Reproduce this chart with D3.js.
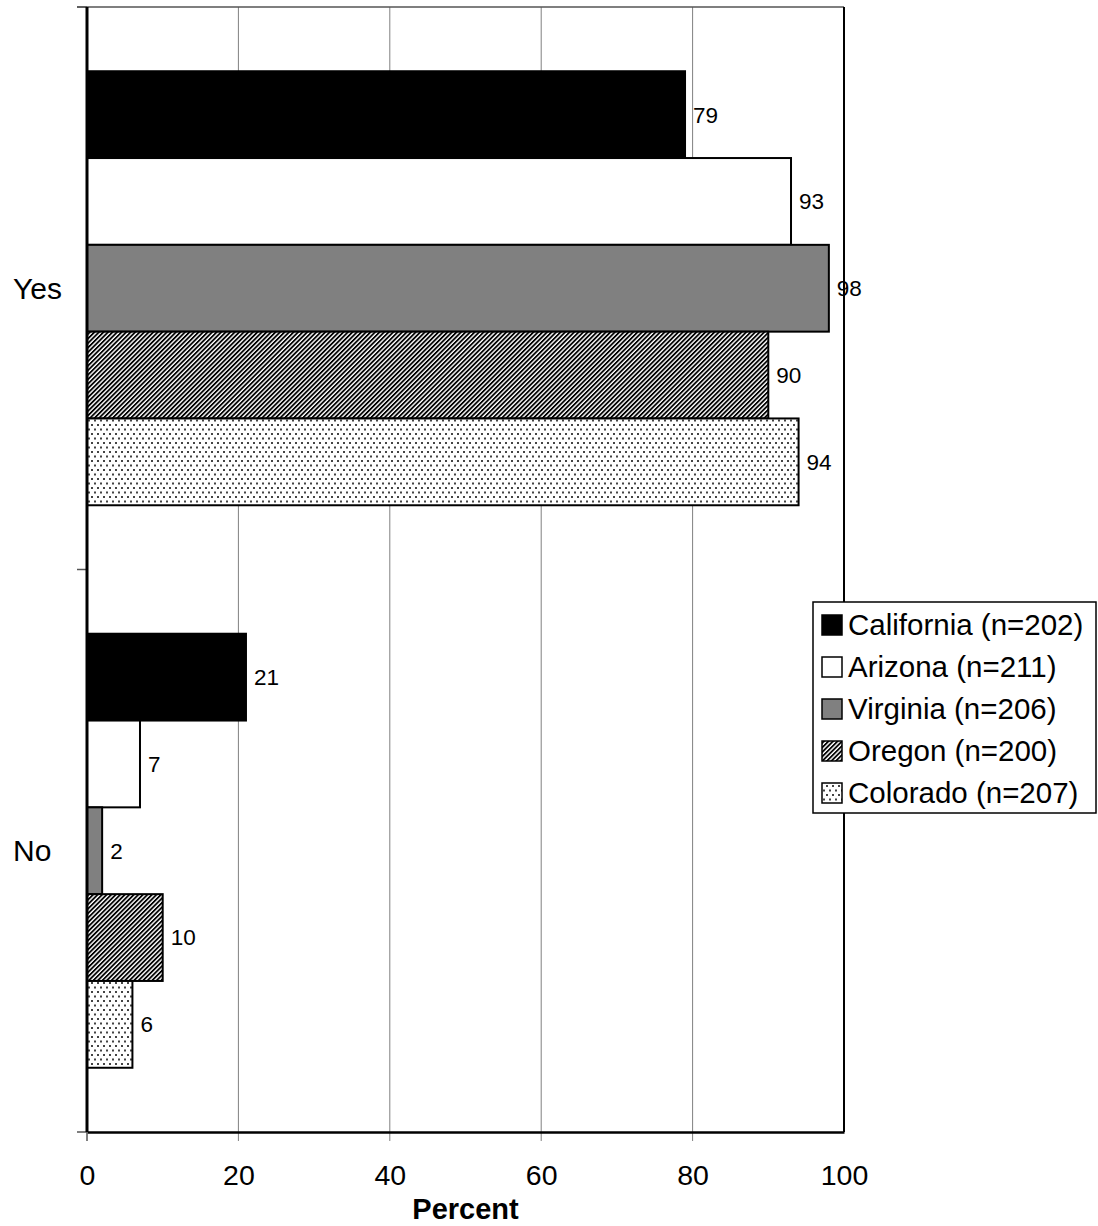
<!DOCTYPE html>
<html>
<head>
<meta charset="utf-8">
<script src="https://cdn.jsdelivr.net/npm/d3@7"></script>
<style>
  html, body { margin: 0; padding: 0; background: #fff; }
  svg { display: block; font-family: "Liberation Sans", Arial, sans-serif; }
</style>
</head>
<body>
<svg id="chart" width="1098" height="1226"></svg>
<script>
// Answer categories (vertical bands) and state series
const categories = ["Yes", "No"];
const seriesNames = ["California (n=202)", "Arizona (n=211)", "Virginia (n=206)", "Oregon (n=200)", "Colorado (n=207)"];
const californiaValues = [79, 21];
const arizonaValues = [93, 7];
const virginiaValues = [98, 2];
const oregonValues = [90, 10];
const coloradoValues = [94, 6];
const xTickValues = [0, 20, 40, 60, 80, 100];
const xAxisTitle = "Percent";

const seriesValues = [californiaValues, arizonaValues, virginiaValues, oregonValues, coloradoValues];
const fills = ["#000000", "#ffffff", "#808080", "url(#stripes)", "url(#dots)"];

const svg = d3.select("#chart");
const margin = { top: 7, left: 87, right: 254, bottom: 94 };
const W = 1098, H = 1226;
const x0 = margin.left, x1 = W - margin.right;
const y0 = margin.top, y1 = H - margin.bottom;

// Fill patterns
const defs = svg.append("defs");
const stripes = defs.append("pattern")
  .attr("id", "stripes").attr("patternUnits", "userSpaceOnUse")
  .attr("width", 3.2).attr("height", 3.2)
  .attr("patternTransform", "rotate(45)");
stripes.append("rect").attr("width", 3.2).attr("height", 3.2).attr("fill", "#fff");
stripes.append("rect").attr("width", 1.8).attr("height", 3.2).attr("fill", "#000");

const dots = defs.append("pattern")
  .attr("id", "dots").attr("patternUnits", "userSpaceOnUse")
  .attr("width", 6).attr("height", 9);
dots.append("rect").attr("width", 6).attr("height", 9).attr("fill", "#fff");
dots.append("rect").attr("x", 1).attr("y", 1).attr("width", 2).attr("height", 2).attr("fill", "#444");
dots.append("rect").attr("x", 4).attr("y", 5.5).attr("width", 2).attr("height", 2).attr("fill", "#444");

// Scales
const x = d3.scaleLinear().domain([0, 100]).range([x0, x1]);
const y = d3.scaleBand().domain(categories).range([y0, y1]).padding(0);
const ySub = d3.scaleBand().domain(d3.range(seriesNames.length))
  .range([0, y.bandwidth()]).paddingInner(0).paddingOuter(0.74);

// Gridlines (with ticks extending below the axis)
svg.append("g").selectAll("line")
  .data(xTickValues.filter(v => v > 0 && v < 100))
  .join("line")
  .attr("x1", d => x(d)).attr("x2", d => x(d))
  .attr("y1", y0).attr("y2", y1 + 9)
  .attr("stroke", "#808080").attr("stroke-width", 1);

// Top border
svg.append("line").attr("x1", x0 - 10).attr("x2", x1).attr("y1", y0).attr("y2", y0)
  .attr("stroke", "#555").attr("stroke-width", 1.5);

// Bars
const flat = [];
categories.forEach((c, ci) => {
  seriesValues.forEach((vals, si) => flat.push({ cat: c, si, v: vals[ci] }));
});

svg.append("g").selectAll("rect")
  .data(flat).join("rect")
  .attr("x", x(0))
  .attr("y", d => y(d.cat) + ySub(d.si))
  .attr("width", d => x(d.v) - x(0))
  .attr("height", ySub.bandwidth())
  .attr("fill", d => fills[d.si])
  .attr("stroke", "#000").attr("stroke-width", 2);

// Value labels
svg.append("g").selectAll("text")
  .data(flat).join("text")
  .attr("x", d => x(d.v) + 8)
  .attr("y", d => y(d.cat) + ySub(d.si) + ySub.bandwidth() / 2)
  .attr("dy", "0.35em")
  .attr("font-size", 22.5)
  .attr("fill", "#000")
  .text(d => d.v);

// Right border
svg.append("line").attr("x1", x1).attr("x2", x1).attr("y1", y0).attr("y2", y1)
  .attr("stroke", "#000").attr("stroke-width", 2);

// Category ticks on the left
const yTickPos = [y0, y0 + y.bandwidth(), y1];
svg.append("g").selectAll("line").data(yTickPos).join("line")
  .attr("x1", x0 - 10).attr("x2", x0).attr("y1", d => d).attr("y2", d => d)
  .attr("stroke", "#555").attr("stroke-width", 1.5);

// Bottom axis
const xAxis = svg.append("g").attr("transform", `translate(0,${y1})`)
  .call(d3.axisBottom(x).tickValues(xTickValues).tickSize(0).tickPadding(33));
xAxis.select(".domain").attr("stroke", "#000").attr("stroke-width", 2.5);
xAxis.selectAll("text").attr("font-size", 28.5).attr("fill", "#000")
  .attr("font-family", "'Liberation Sans', Arial, sans-serif");
svg.append("line").attr("x1", x0).attr("x2", x0).attr("y1", y1).attr("y2", y1 + 9)
  .attr("stroke", "#555").attr("stroke-width", 1.5);

// Left axis line
svg.append("line").attr("x1", x0).attr("x2", x0).attr("y1", y0).attr("y2", y1)
  .attr("stroke", "#000").attr("stroke-width", 3);

// Category labels
svg.append("g").selectAll("text").data(categories).join("text")
  .attr("x", 13)
  .attr("y", d => y(d) + y.bandwidth() / 2)
  .attr("dy", "0.35em")
  .attr("font-size", 30)
  .attr("fill", "#000")
  .text(d => d);

// Axis title
svg.append("text")
  .attr("x", (x0 + x1) / 2).attr("y", 1219)
  .attr("text-anchor", "middle")
  .attr("font-size", 29).attr("font-weight", "bold")
  .attr("fill", "#000")
  .text(xAxisTitle);

// Legend
const legend = svg.append("g").attr("transform", "translate(813,602)");
legend.append("rect").attr("width", 283).attr("height", 211)
  .attr("fill", "#fff").attr("stroke", "#000").attr("stroke-width", 1.5);
const rowY = d3.scalePoint().domain(d3.range(seriesNames.length)).range([23, 191]);
const rows = legend.selectAll("g.row").data(seriesNames).join("g")
  .attr("class", "row")
  .attr("transform", (d, i) => `translate(0,${rowY(i)})`);
rows.append("rect").attr("x", 9).attr("y", -10).attr("width", 20).attr("height", 20)
  .attr("fill", (d, i) => fills[i]).attr("stroke", "#000").attr("stroke-width", 1.5);
rows.append("text").attr("x", 35).attr("dy", "0.35em")
  .attr("font-size", 29.5).attr("fill", "#000")
  .text(d => d);
</script>
</body>
</html>
